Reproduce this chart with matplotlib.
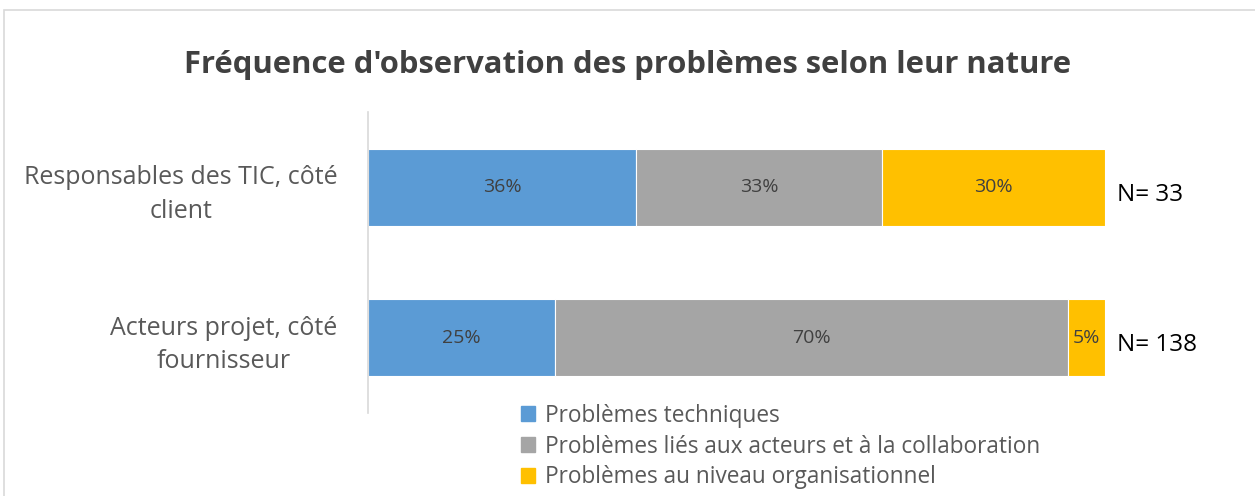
import matplotlib
matplotlib.use("Agg")
import matplotlib.pyplot as plt
from matplotlib.patches import Rectangle
import numpy as np

plt.rcParams['font.family'] = ['Open Sans', 'DejaVu Sans']

categories = ["Acteurs projet, côté\nfournisseur", "Responsables des TIC, côté\nclient"]
series_names = ["Problèmes techniques",
                "Problèmes liés aux acteurs et à la collaboration",
                "Problèmes au niveau organisationnel"]
# counts per group (bottom group first)
techniques = [35, 12]
acteurs = [96, 11]
organisationnel = [7, 10]
n_labels = ["N= 138", "N= 33"]
colors = ["#5B9BD5", "#A5A5A5", "#FFC000"]

fig = plt.figure(figsize=(12.55, 4.96), dpi=100)
ax = fig.add_axes([0.2932, 0.1673, 0.5873, 0.6069])

data = np.array([techniques, acteurs, organisationnel], dtype=float)
totals = data.sum(axis=0)
pct = data / totals * 100
y = np.arange(len(categories))
left = np.zeros(len(categories))
for i, name in enumerate(series_names):
    ax.barh(y, pct[i], left=left, height=0.51, color=colors[i],
            edgecolor='white', linewidth=0.8, label=name)
    for j in range(len(categories)):
        ax.text(left[j] + pct[i][j] / 2, y[j], f"{pct[i][j]:.0f}%",
                ha='center', va='center', fontsize=14, color='#404040')
    left += pct[i]

for j in range(len(categories)):
    ax.text(101.6, y[j] - 0.05, n_labels[j], ha='left', va='center',
            fontsize=17.5, color='black')

ax.set_xlim(0, 100)
ax.set_ylim(-0.5, 1.5)
ax.set_yticks(y)
ax.set_yticklabels(categories, fontsize=18, color='#595959', linespacing=1.45,
                   multialignment='center')
ax.tick_params(axis='y', length=0, pad=22)
ax.set_xticks([])
for s in ['top', 'right', 'bottom']:
    ax.spines[s].set_visible(False)
ax.spines['left'].set_color('#D9D9D9')
ax.spines['left'].set_linewidth(1.2)

fig.text(0.5, 0.869, "Fréquence d'observation des problèmes selon leur nature",
         ha='center', va='center', fontsize=22.3, fontweight='bold', color='#404040')

handles = [Rectangle((0, 0), 1, 1, color=c) for c in colors]
leg = fig.legend(handles, series_names, loc='upper left',
                 bbox_to_anchor=(0.4155, 0.186), frameon=False, fontsize=16.3,
                 labelcolor='#595959', handlelength=0.62, handleheight=0.62,
                 handletextpad=0.4, labelspacing=0.3, borderpad=0, borderaxespad=0)

# outer chart border
fig.add_artist(Rectangle((0.0035, -0.01), 1.2, 0.99, transform=fig.transFigure,
                         fill=False, edgecolor='#D9D9D9', linewidth=1.2))

fig.savefig("out.png", dpi=100, facecolor='white')
